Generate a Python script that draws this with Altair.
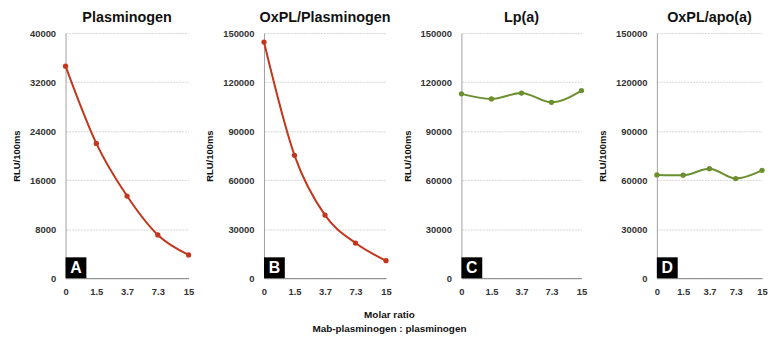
import altair as alt
import pandas as pd

ratios = ["0", "1.5", "3.7", "7.3", "15"]
plasminogen = [34600, 22000, 13400, 7050, 3800]
oxpl_plasminogen = [144500, 75200, 38600, 21500, 10700]
lpa = [112800, 109700, 113300, 107600, 114800]
oxpl_apoa = [63200, 63000, 67000, 61000, 66000]

titles = ["Plasminogen", "OxPL/Plasminogen", "Lp(a)", "OxPL/apo(a)"]
letters = ["A", "B", "C", "D"]
series = [plasminogen, oxpl_plasminogen, lpa, oxpl_apoa]
colors = ["#c1361c", "#c1361c", "#6b8e2e", "#6b8e2e"]
ymaxs = [40000, 150000, 150000, 150000]
ysteps = [8000, 30000, 30000, 30000]
widths = [124, 123, 121, 106]

FONT = "Liberation Sans"
H = 247


def panel(title, letter, vals, color, ymax, step, W):
    df = pd.DataFrame({"ratio": ratios, "rlu": vals})
    x = alt.X(
        "ratio:O",
        sort=ratios,
        scale=alt.Scale(type="point", padding=0),
        axis=alt.Axis(title=None, labelAngle=0, domainColor="#808080",
                      ticks=False, labelPadding=8),
    )
    y = alt.Y(
        "rlu:Q",
        scale=alt.Scale(domain=[0, ymax], nice=False),
        axis=alt.Axis(values=list(range(0, ymax + 1, step)), title="RLU/100ms",
                      format="d", ticks=False, labelPadding=10, titlePadding=8,
                      domainColor="#a0a0a0", gridColor="#d6d6d6",
                      gridDash=[2, 1]),
    )
    base = alt.Chart(df)
    line = base.mark_line(color=color, strokeWidth=2, interpolate="monotone").encode(x=x, y=y)
    pts = base.mark_circle(color=color, size=28, opacity=1).encode(x=x, y=y)
    lab = alt.Chart(pd.DataFrame({"letter": [letter]}))
    box = lab.mark_rect(color="black").encode(
        x=alt.value(0), x2=alt.value(21), y=alt.value(H - 21), y2=alt.value(H)
    )
    txt = lab.mark_text(color="white", fontSize=16, fontWeight="bold", font=FONT).encode(
        text="letter:N", x=alt.value(10.5), y=alt.value(H - 10)
    )
    return alt.layer(line, pts, box, txt).properties(
        width=W, height=H,
        title=alt.TitleParams(title, fontSize=14.5, fontWeight="bold", font=FONT,
                              offset=3, anchor="middle", frame="group", color="#111"),
    )


panels = [panel(t, l, v, c, m, s, w) for t, l, v, c, m, s, w in
          zip(titles, letters, series, colors, ymaxs, ysteps, widths)]

chart = alt.hconcat(*panels, spacing=10).properties(
    title=alt.TitleParams(["Molar ratio", "Mab-plasminogen : plasminogen"],
                          orient="bottom", anchor="middle", fontSize=10,
                          fontWeight="bold", font=FONT, offset=15, lineHeight=14,
                          color="#111"),
    padding={"left": 3, "top": 0, "right": 0, "bottom": 0},
).configure_view(stroke=None).configure_axis(
    labelFont=FONT, labelFontSize=9.5, labelFontWeight="bold", labelColor="#333",
    titleFont=FONT, titleFontSize=9.5, titleFontWeight="bold", titleColor="#111",
).configure_axisX(grid=False)

chart.save("out.html", embed_options={"renderer": "svg", "actions": False})
